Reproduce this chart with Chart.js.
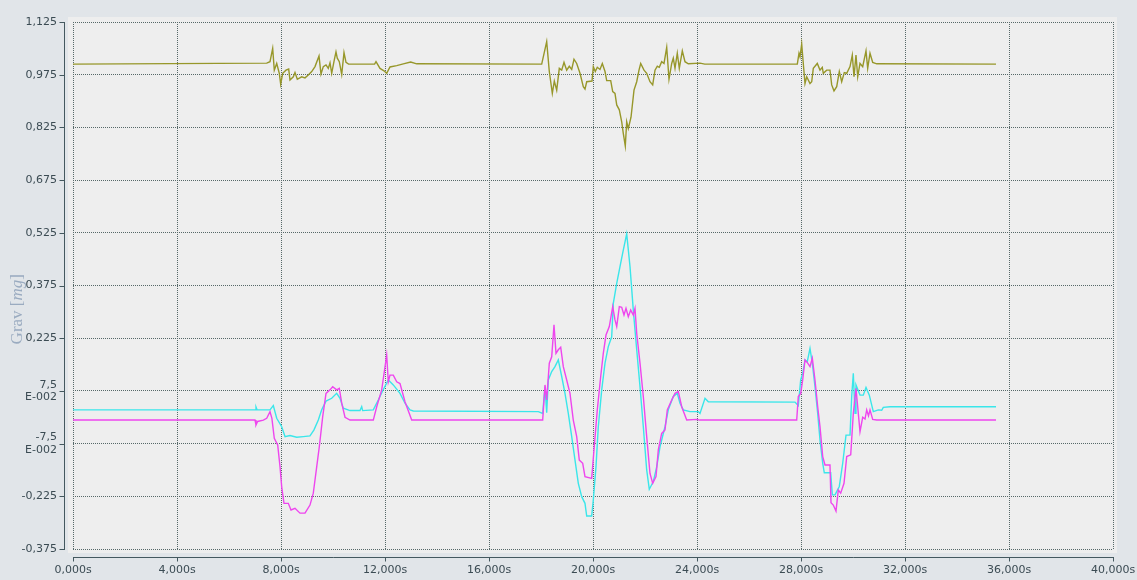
<!DOCTYPE html>
<html><head><meta charset="utf-8">
<script src="https://cdn.jsdelivr.net/npm/chart.js@4/dist/chart.umd.min.js"></script>
<style>html,body{margin:0;padding:0;background:#e1e5e9;overflow:hidden}#wrap{width:1137px;height:580px;position:relative}</style>
</head><body><div id="wrap"><canvas id="c" width="1137" height="580"></canvas></div>
<script>
// ---- tick values / labels ----
const xTickValues = [0,4000,8000,12000,16000,20000,24000,28000,32000,36000,40000];
const xTickLabels = ['0,000s','4,000s','8,000s','12,000s','16,000s','20,000s','24,000s','28,000s','32,000s','36,000s','40,000s'];
const yTickValues = [-0.375,-0.225,-0.075,0.075,0.225,0.375,0.525,0.675,0.825,0.975,1.125];
const yTickLabels = ['-0,375','-0,225',['-7,5','E-002'],['7,5','E-002'],'0,225','0,375','0,525','0,675','0,825','0,975','1,125'];

// ---- olive series ----
const oliveT = [0,7450,7577,7680,7742,7835,7935,7988,8065,8192,8296,8346,8473,8538,8627,8796,8923,9050,9181,9308,9462,9538,9627,9731,9819,9885,9950,10050,10115,10165,10242,10335,10423,10500,10600,11600,11654,11808,11962,12065,12192,12450,12704,12988,13219,
 18027,18219,18319,18435,18512,18604,18704,18796,18885,18988,19088,19181,19269,19373,19500,19627,19692,19758,19962,20012,20088,20165,20269,20358,20462,20527,20681,20758,20846,20912,21012,21104,21165,21242,21296,21358,21462,21577,21681,21769,21835,21962,22065,22192,22296,22385,22473,22550,22642,22731,22835,22923,23027,23088,23154,23242,23319,23435,23538,23665,24115,24300,
 27858,27923,27962,28027,28088,28154,28219,28346,28412,28473,28627,28731,28819,28858,28988,29115,29181,29269,29373,29473,29565,29665,29758,29885,29973,30038,30115,30181,30269,30373,30500,30565,30654,30758,30912,35500];
const oliveV = [1.005,1.008,1.012,1.050,0.988,1.007,0.979,0.948,0.979,0.988,0.991,0.960,0.969,0.981,0.962,0.969,0.966,0.974,0.984,0.998,1.028,0.977,0.998,1.003,0.993,1.009,0.979,1.017,1.040,1.022,1.012,0.976,1.038,1.010,1.005,1.005,1.012,0.993,0.986,0.979,0.997,1.001,1.006,1.011,1.006,
 1.005,1.069,0.984,0.922,0.957,0.931,0.993,0.988,1.010,0.988,0.999,0.990,1.019,1.007,0.979,0.941,0.934,0.955,0.957,0.998,0.984,0.996,0.990,1.007,0.984,0.958,0.958,0.927,0.922,0.889,0.875,0.841,0.808,0.772,0.841,0.822,0.854,0.931,0.955,0.988,1.007,0.988,0.979,0.955,0.946,0.988,0.999,0.996,1.012,1.007,1.053,0.962,1.007,1.022,0.993,1.036,0.993,1.043,1.012,1.006,1.008,1.005,
 1.005,1.036,1.026,1.062,1.007,0.950,0.969,0.950,0.955,0.993,1.007,0.988,0.996,0.979,0.988,0.988,0.946,0.929,0.941,0.984,0.955,0.981,0.979,0.998,1.031,0.969,1.031,0.969,1.007,0.998,1.043,0.993,1.036,1.010,1.006,1.005];

// ---- cyan series ----
const cyanT = [0,7000,7038,7080,7577,7704,7835,8027,8154,8346,8604,8858,9115,9269,9435,9565,9731,9950,10142,10269,10396,10654,11038,11104,11140,11550,11742,11935,12127,12319,12577,12769,12962,13088,
 17898,18065,18154,18219,18281,18412,18538,18665,18796,18923,19050,19181,19308,19435,19565,19692,19758,19950,20012,20115,20204,20335,20462,20588,20719,20781,20912,21038,21165,21296,21423,21550,21681,21808,21935,22065,22165,22319,22450,22577,22769,22896,23088,23242,23346,23473,23731,24050,24115,24308,24435,
 27769,27896,27988,28065,28154,28242,28346,28435,28538,28642,28731,28835,28896,29142,29204,29308,29473,29604,29731,29885,29950,30012,30077,30115,30269,30396,30500,30627,30781,30973,31104,31165,31423,35500];
const cyanV = [0.021,0.021,0.029,0.021,0.021,0.033,-0.003,-0.027,-0.055,-0.052,-0.057,-0.055,-0.053,-0.036,-0.008,0.021,0.046,0.054,0.068,0.054,0.026,0.019,0.019,0.030,0.019,0.021,0.049,0.079,0.106,0.092,0.068,0.040,0.021,0.018,
 0.016,0.011,0.087,0.013,0.106,0.130,0.144,0.163,0.116,0.068,0.011,-0.055,-0.122,-0.188,-0.226,-0.245,-0.281,-0.281,-0.235,-0.141,-0.027,0.078,0.154,0.201,0.229,0.324,0.381,0.429,0.476,0.522,0.429,0.305,0.192,0.087,-0.027,-0.150,-0.205,-0.183,-0.141,-0.084,-0.027,0.021,0.059,0.068,0.040,0.021,0.016,0.016,0.011,0.054,0.044,
 0.043,0.033,0.106,0.125,0.163,0.158,0.196,0.154,0.087,0.011,-0.065,-0.131,-0.158,-0.158,-0.221,-0.221,-0.197,-0.131,-0.051,-0.051,0.059,0.125,0.011,0.092,0.063,0.063,0.085,0.063,0.016,0.021,0.020,0.028,0.030,0.030];

// ---- magenta series ----
const magT = [0,7000,7038,7100,7321,7450,7577,7650,7742,7873,7962,8027,8115,8281,8385,8538,8731,8923,9115,9242,9373,9473,9604,9731,9885,9988,10142,10242,10335,10462,10654,11550,11681,11873,12065,12127,12192,12319,12450,12577,12769,13027,
 18065,18154,18219,18319,18412,18500,18577,18665,18758,18858,18988,19115,19242,19373,19473,19604,19692,19950,20038,20165,20296,20396,20500,20627,20758,20846,20912,21012,21104,21192,21269,21358,21450,21550,21615,21681,21808,21935,22065,22192,22296,22423,22512,22642,22769,22858,23027,23154,23281,23412,23604,24000,24100,
 27835,27896,27988,28065,28154,28258,28346,28435,28538,28642,28731,28835,28923,29115,29154,29242,29346,29435,29527,29654,29758,29912,30012,30115,30204,30269,30373,30462,30527,30596,30654,30758,30912,35500];
const magV = [-0.008,-0.008,-0.022,-0.012,-0.008,-0.003,0.016,-0.003,-0.060,-0.079,-0.141,-0.198,-0.245,-0.245,-0.264,-0.259,-0.273,-0.273,-0.250,-0.216,-0.141,-0.084,0.002,0.068,0.078,0.087,0.078,0.082,0.040,0.000,-0.008,-0.008,0.030,0.078,0.177,0.101,0.120,0.120,0.101,0.096,0.044,-0.008,
 -0.008,0.092,0.049,0.154,0.172,0.263,0.182,0.192,0.199,0.144,0.106,0.068,-0.008,-0.055,-0.122,-0.131,-0.169,-0.174,-0.093,0.021,0.116,0.182,0.234,0.258,0.315,0.277,0.258,0.315,0.313,0.291,0.310,0.286,0.305,0.291,0.310,0.239,0.154,0.059,-0.055,-0.160,-0.188,-0.169,-0.093,-0.046,-0.036,0.021,0.049,0.068,0.073,0.030,-0.008,-0.006,-0.008,
 -0.008,0.059,0.068,0.106,0.163,0.154,0.144,0.168,0.106,0.030,-0.027,-0.112,-0.136,-0.136,-0.243,-0.250,-0.267,-0.207,-0.216,-0.188,-0.112,-0.107,0.011,0.082,0.011,-0.041,0.000,-0.005,0.021,0.004,0.021,-0.006,-0.008,-0.008];

const pts = (T, V) => T.map((t, i) => ({x: t, y: V[i]}));

const AXIS_COLOR = '#44585f';
const LABEL_COLOR = '#3b4b53';

const framePlugin = {
  id: 'frame',
  beforeDraw(chart) {
    const {ctx, chartArea: a} = chart;
    ctx.save();
    ctx.fillStyle = '#eeeeee';
    ctx.fillRect(a.left - 5, a.top - 5, a.right - a.left + 9, a.bottom - a.top + 9);
    ctx.restore();
  },
  afterDraw(chart) {
    const {ctx, chartArea: a} = chart;
    const xs = chart.scales.x, ys = chart.scales.y;
    ctx.save();
    ctx.strokeStyle = AXIS_COLOR;
    ctx.lineWidth = 1;
    // y axis line
    const ax = Math.round(a.left - 9) + 0.5;
    ctx.beginPath();
    ctx.moveTo(ax, ys.getPixelForValue(yTickValues[yTickValues.length - 1]));
    ctx.lineTo(ax, ys.getPixelForValue(yTickValues[0]) + 1);
    ctx.stroke();
    yTickValues.forEach(v => {
      const py = Math.round(ys.getPixelForValue(v)) + 0.5;
      ctx.beginPath(); ctx.moveTo(ax - 5, py); ctx.lineTo(ax, py); ctx.stroke();
    });
    // x axis line
    const ay = Math.round(a.bottom + 8) + 0.5;
    ctx.beginPath();
    ctx.moveTo(xs.getPixelForValue(xTickValues[0]), ay);
    ctx.lineTo(xs.getPixelForValue(xTickValues[xTickValues.length - 1]) + 1, ay);
    ctx.stroke();
    xTickValues.forEach(v => {
      const px = Math.round(xs.getPixelForValue(v)) + 0.5;
      ctx.beginPath(); ctx.moveTo(px, ay); ctx.lineTo(px, ay + 4); ctx.stroke();
    });
    // y axis title
    const part1 = 'Grav [', part2 = 'mg', part3 = ']';
    const fN = '17px "Liberation Serif", "DejaVu Serif", serif';
    const fI = 'italic 17px "Liberation Serif", "DejaVu Serif", serif';
    ctx.font = fN; const w1 = ctx.measureText(part1).width, w3 = ctx.measureText(part3).width;
    ctx.font = fI; const w2 = ctx.measureText(part2).width;
    const total = w1 + w2 + w3;
    ctx.translate(22, a.top + (a.bottom - a.top) * 0.545);
    ctx.rotate(-Math.PI / 2);
    ctx.fillStyle = '#9aabc0';
    ctx.textBaseline = 'alphabetic';
    ctx.textAlign = 'left';
    let x0 = -total / 2;
    ctx.font = fN; ctx.fillText(part1, x0, 0);
    ctx.font = fI; ctx.fillText(part2, x0 + w1, 0);
    ctx.font = fN; ctx.fillText(part3, x0 + w1 + w2, 0);
    ctx.restore();
  }
};

new Chart(document.getElementById('c'), {
  type: 'line',
  data: {
    datasets: [
      {label: 'magenta', data: pts(magT, magV), borderColor: '#ee46ee', borderWidth: 1.4},
      {label: 'cyan', data: pts(cyanT, cyanV), borderColor: '#3ae6ea', borderWidth: 1.4},
      {label: 'olive', data: pts(oliveT, oliveV), borderColor: '#97972a', borderWidth: 1.4}
    ]
  },
  options: {
    responsive: false,
    animation: false,
    devicePixelRatio: 1,
    parsing: true,
    layout: {padding: {left: 0, right: 24, top: 22, bottom: 0}},
    elements: {point: {radius: 0}, line: {tension: 0}},
    plugins: {legend: {display: false}, tooltip: {enabled: false}},
    scales: {
      x: {
        type: 'linear', min: 0, max: 40000,
        afterBuildTicks: s => { s.ticks = xTickValues.map(v => ({value: v})); },
        afterFit: s => { s.height = 31; s.paddingLeft = 0; s.paddingRight = 0; },
        ticks: {
          autoSkip: false, maxRotation: 0, padding: 15, color: LABEL_COLOR,
          font: {family: '"DejaVu Sans", Verdana, sans-serif', size: 11},
          callback: (v, i) => xTickLabels[i]
        },
        grid: {color: '#566868', lineWidth: 1, drawTicks: false},
        border: {display: false, dash: [1, 1]}
      },
      y: {
        type: 'linear', min: -0.375, max: 1.125,
        afterBuildTicks: s => { s.ticks = yTickValues.map(v => ({value: v})); },
        afterFit: s => { s.width = 73; s.paddingTop = 0; s.paddingBottom = 0; },
        ticks: {
          autoSkip: false, padding: 16, color: LABEL_COLOR,
          font: {family: '"DejaVu Sans", Verdana, sans-serif', size: 11, lineHeight: 1.1},
          callback: (v, i) => yTickLabels[i]
        },
        grid: {color: '#566868', lineWidth: 1, drawTicks: false},
        border: {display: false, dash: [1, 1]}
      }
    }
  },
  plugins: [framePlugin]
});
</script>
</body></html>
